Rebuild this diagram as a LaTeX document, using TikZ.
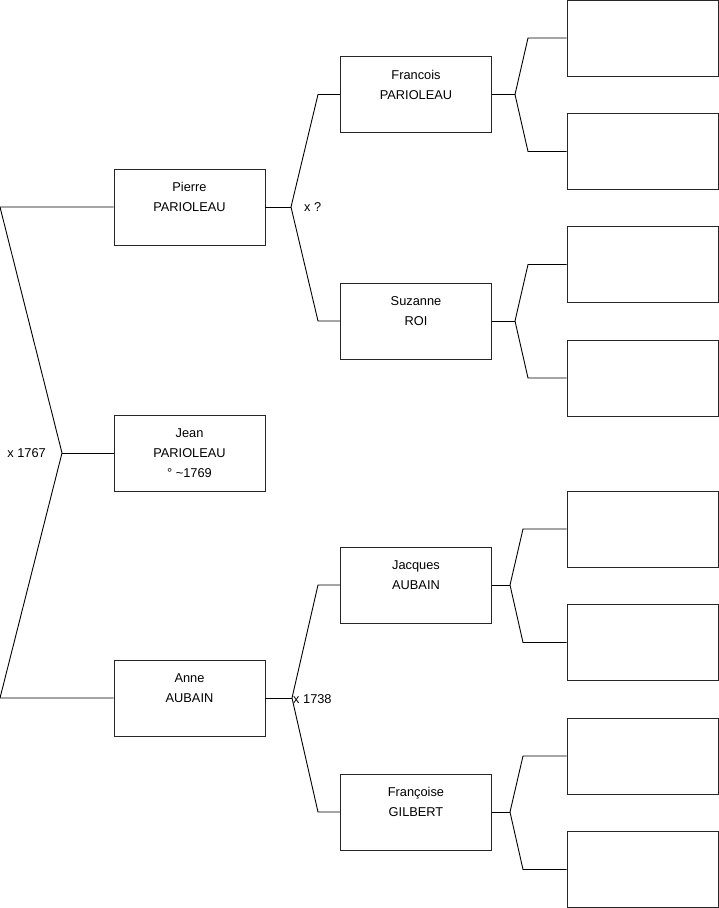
\documentclass[tikz,border=0pt]{standalone}
\usepackage{fontspec}
\setmainfont{Liberation Sans}
\usepackage{tikz}
\usepackage{xcolor}
\tikzset{
  person/.style={draw=black!85,line width=0.9pt,rectangle,minimum width=151,minimum height=76,
    inner sep=0pt,align=center,font=\fontsize{12.8}{20}\selectfont},
  marriage/.style={inner sep=0pt,font=\fontsize{12.8}{15}\selectfont},
  tie/.style={line width=0.9pt}
}

\begin{document}
\begin{tikzpicture}[x=1pt,y=-1pt]
    \useasboundingbox (0,0) rectangle (719,908);
    % generation 1
    \node[person] (pierre) at (189.5,207) {Pierre\\PARIOLEAU\\\mbox{}};
    \node[person] (jean) at (189.5,453) {Jean\\PARIOLEAU\\° \textasciitilde1769};
    \node[person] (anne) at (189.5,698) {Anne\\AUBAIN\\\mbox{}};
    % generation 2
    \node[person] (francois) at (416,94.5) {Francois\\PARIOLEAU\\\mbox{}};
    \node[person] (suzanne) at (416,321) {Suzanne\\ROI\\\mbox{}};
    \node[person] (jacques) at (416,585) {Jacques\\AUBAIN\\\mbox{}};
    \node[person] (francoise) at (416,812) {Françoise\\GILBERT\\\mbox{}};
    % generation 3, still empty
    \node[person] (a1) at (642.5,38) {};
    \node[person] (a2) at (642.5,151.5) {};
    \node[person] (a3) at (642.5,264.5) {};
    \node[person] (a4) at (642.5,378) {};
    \node[person] (a5) at (642.5,529) {};
    \node[person] (a6) at (642.5,642.5) {};
    \node[person] (a7) at (642.5,756) {};
    \node[person] (a8) at (642.5,869.5) {};

    % jean's parents
    \coordinate (r1) at (0,207);
    \coordinate (r2) at (0,698);
    \coordinate (m1) at (62,453);
    \draw[tie] (pierre.west) -- (r1) -- (m1) -- (r2) -- (anne.west);
    \draw[tie] (m1) -- (jean.west);
    \node[marriage,anchor=east] (x1) at ([xshift=-16]m1) {x 1767};

    % pierre's parents
    \coordinate (mp) at (291,207);
    \coordinate (pa) at (318,94.5);
    \coordinate (pb) at (318,321);
    \draw[tie] (pierre.east) -- (mp);
    \draw[tie] (francois.west) -- (pa) -- (mp) -- (pb) -- (suzanne.west);
    \node[marriage,anchor=west] (x2) at ([xshift=13]mp) {x ?};

    % anne's parents
    \coordinate (ma) at (292,698);
    \coordinate (aa) at (318,585);
    \coordinate (ab) at (318,812);
    \draw[tie] (anne.east) -- (ma);
    \draw[tie] (jacques.west) -- (aa) -- (ma) -- (ab) -- (francoise.west);
    \node[marriage,anchor=west] (x3) at ([xshift=1,yshift=-1]ma) {x 1738};

    % francois
    \coordinate (mf) at (515,94.5);
    \draw[tie] (francois.east) -- (mf);
    \draw[tie] (a1.west) -- (528,38) -- (mf) -- (528,151.5) -- (a2.west);
    % suzanne
    \coordinate (ms) at (515,321);
    \draw[tie] (suzanne.east) -- (ms);
    \draw[tie] (a3.west) -- (528,264.5) -- (ms) -- (528,378) -- (a4.west);
    % jacques
    \coordinate (mj) at (510,585);
    \draw[tie] (jacques.east) -- (mj);
    \draw[tie] (a5.west) -- (523,529) -- (mj) -- (523,642.5) -- (a6.west);
    % francoise
    \coordinate (mg) at (510,812);
    \draw[tie] (francoise.east) -- (mg);
    \draw[tie] (a7.west) -- (523,756) -- (mg) -- (523,869.5) -- (a8.west);
  \end{tikzpicture}
\end{document}
